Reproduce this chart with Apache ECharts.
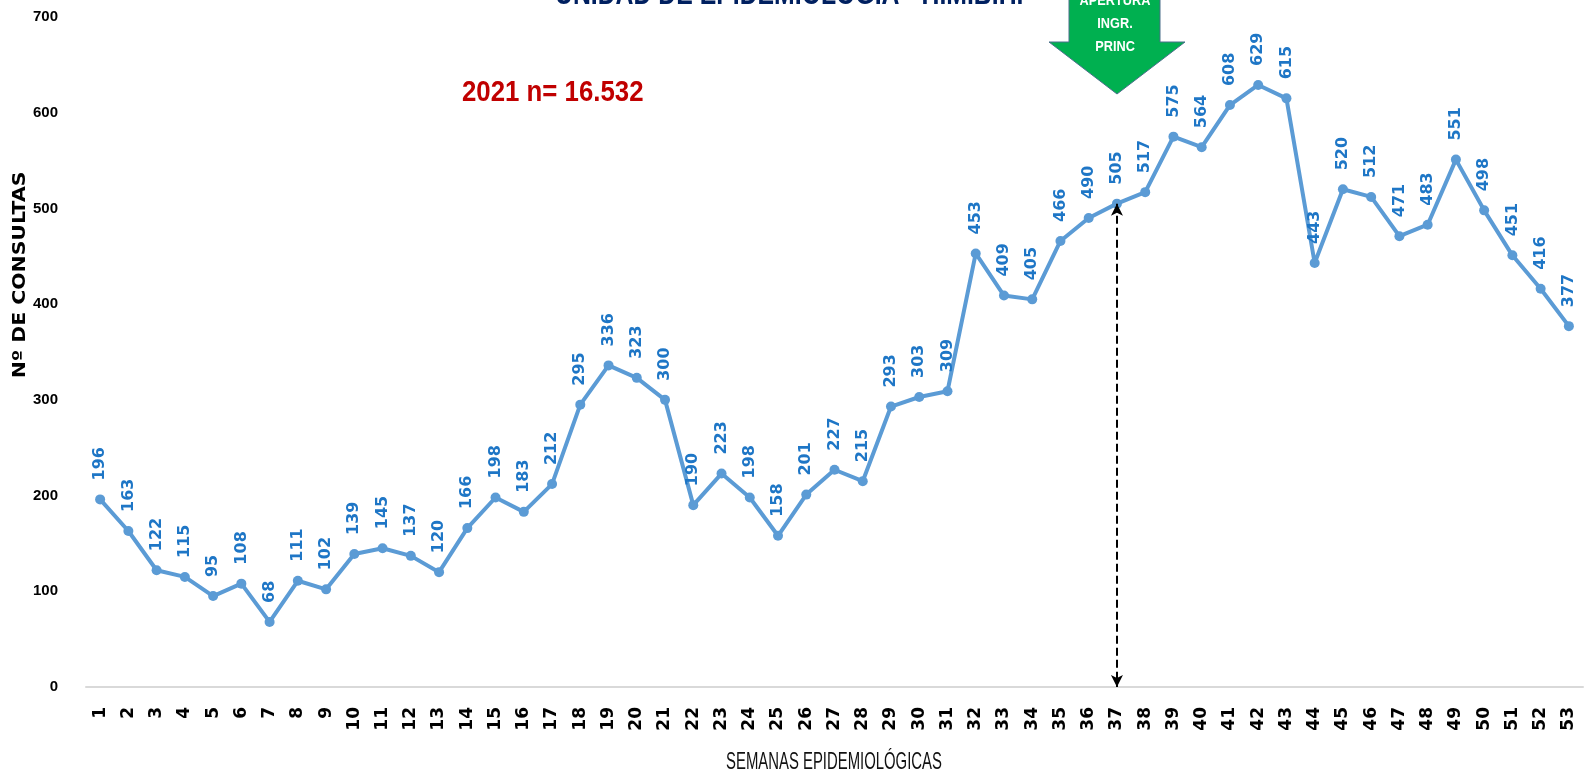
<!DOCTYPE html>
<html lang="es">
<head>
  <meta charset="utf-8">
  <title>Consultas por semana epidemiológica 2021</title>
  <script src="https://cdn.jsdelivr.net/npm/echarts@6/dist/echarts.min.js"></script>
  <style>
    html, body { margin: 0; padding: 0; background: #fff; }
    #chart { width: 1585px; height: 773px; }
  </style>
</head>
<body>
<div id="chart"></div>
<script type="text/javascript">
// semanas epidemiologicas 1..53
var semanas = ['1','2','3','4','5','6','7','8','9','10','11','12','13','14','15','16','17','18','19','20',
  '21','22','23','24','25','26','27','28','29','30','31','32','33','34','35','36','37','38','39','40',
  '41','42','43','44','45','46','47','48','49','50','51','52','53'];
// nº de consultas por semana
var consultas = [196,163,122,115,95,108,68,111,102,139,145,137,120,166,198,183,212,295,336,323,
  300,190,223,198,158,201,227,215,293,303,309,453,409,405,466,490,505,517,575,564,
  608,629,615,443,520,512,471,483,551,498,451,416,377];
var yTicks = [0,100,200,300,400,500,600,700];
var semanaApertura = '37';

var sans = "'Liberation Sans', Arial, sans-serif";
var verdana = "'DejaVu Sans', Verdana, sans-serif";

var chart = echarts.init(document.getElementById('chart'));
var idxApertura = semanas.indexOf(semanaApertura);

var option = {
  animation: false,
  grid: { left: 86, right: 2, top: 17, bottom: 86, containLabel: false, outerBoundsMode: 'none' },
  xAxis: {
    type: 'category',
    data: semanas,
    boundaryGap: true,
    axisLine: { lineStyle: { color: '#d9d9d9', width: 2 } },
    axisTick: { show: false },
    axisLabel: { rotate: 90, interval: 0, margin: 20, fontFamily: verdana, fontWeight: 'bold', fontSize: 17, color: '#000' }
  },
  yAxis: {
    type: 'value',
    min: yTicks[0],
    max: yTicks[yTicks.length - 1],
    interval: 100,
    axisLine: { show: false },
    axisTick: { show: false },
    splitLine: { show: false },
    axisLabel: { margin: 28, fontFamily: sans, fontWeight: 'bold', fontSize: 15, color: '#000' }
  },
  series: [{
    name: 'Consultas',
    type: 'line',
    data: consultas,
    symbol: 'circle',
    symbolSize: 10,
    lineStyle: { color: '#5b9bd5', width: 4 },
    itemStyle: { color: '#5b9bd5' },
    label: {
      show: true,
      position: 'top',
      rotate: 90,
      align: 'left',
      verticalAlign: 'middle',
      distance: 14,
      fontFamily: verdana,
      fontWeight: 'bold',
      fontSize: 16,
      color: '#1e76c6'
    },
    markLine: {
      silent: true,
      symbol: ['arrow', 'arrow'],
      symbolSize: [9, 12],
      label: { show: false },
      lineStyle: { color: '#000', type: 'dashed', width: 2 },
      data: [[
        { coord: [semanaApertura, consultas[idxApertura]] },
        { coord: [semanaApertura, 0] }
      ]]
    }
  }],
  graphic: [
    // titulo (cortado arriba como en el original)
    {
      type: 'text', x: 555, y: -20, scaleX: 0.8,
      style: { text: 'UNIDAD DE EPIDEMIOLOGIA - H.M.B.H.', fontFamily: sans, fontWeight: 'bold', fontSize: 31, fill: '#002060', verticalAlign: 'top' }
    },
    {
      type: 'text', x: 462, y: 78, scaleX: 0.89,
      style: { text: '2021 n= 16.532', fontFamily: sans, fontWeight: 'bold', fontSize: 29, fill: '#c00000', verticalAlign: 'top' }
    },
    // flecha verde apertura ingreso principal
    {
      type: 'polygon',
      shape: { points: [[1069,-5],[1160,-5],[1160,42],[1185,42],[1117,94],[1049,42],[1069,42]] },
      style: { fill: '#00b050', stroke: '#4a6f8a', lineWidth: 1 }
    },
    {
      type: 'text', x: 1115, y: 24, scaleX: 0.85,
      style: { text: 'APERTURA\nINGR.\nPRINC', align: 'center', verticalAlign: 'middle', lineHeight: 23,
        fontFamily: sans, fontWeight: 'bold', fontSize: 15, fill: '#fff' }
    },
    // nombres de ejes
    {
      type: 'text', x: 834, y: 762, scaleX: 0.62,
      style: { text: 'SEMANAS EPIDEMIOLÓGICAS', align: 'center', verticalAlign: 'middle',
        fontFamily: sans, fontSize: 24, fill: '#111' }
    },
    {
      type: 'text', x: 21, y: 275, rotation: Math.PI / 2, scaleX: 1.2,
      style: { text: 'Nº DE CONSULTAS', align: 'center', verticalAlign: 'middle',
        fontFamily: verdana, fontWeight: 'bold', fontSize: 17, fill: '#000' }
    }
  ]
};
chart.setOption(option);
</script>
</body>
</html>
